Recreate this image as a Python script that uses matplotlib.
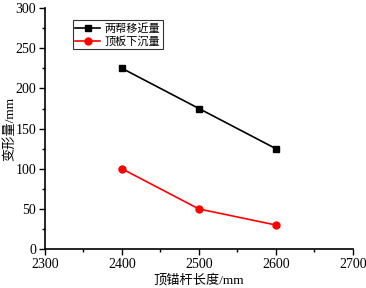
import matplotlib
matplotlib.use('Agg')
import matplotlib.pyplot as plt
from matplotlib.ticker import MultipleLocator

plt.rcParams['font.family'] = ['Liberation Serif', 'Noto Sans CJK SC']

# data
bolt_length = [2400, 2500, 2600]
side_convergence = [225, 175, 125]
roof_subsidence = [100, 50, 30]

fig = plt.figure(figsize=(3.66, 2.88), dpi=100)
ax = fig.add_axes([0.123, 0.135, 0.841, 0.837])

ax.plot(bolt_length, side_convergence, color='black', marker='s', markersize=4.5,
        linewidth=1.2, label='两帮移近量')
ax.plot(bolt_length, roof_subsidence, color='red', marker='o', markersize=5,
        linewidth=1.2, label='顶板下沉量')

ax.set_xlim(2300, 2700)
ax.set_ylim(0, 300)
ax.xaxis.set_major_locator(MultipleLocator(100))
ax.xaxis.set_minor_locator(MultipleLocator(50))
ax.yaxis.set_major_locator(MultipleLocator(50))
ax.yaxis.set_minor_locator(MultipleLocator(25))

ax.spines['top'].set_visible(False)
ax.spines['right'].set_visible(False)
ax.spines['left'].set_linewidth(1.2)
ax.spines['bottom'].set_linewidth(1.2)
ax.tick_params(which='major', direction='out', length=4, width=1, labelsize=10, pad=2.5)
ax.tick_params(which='minor', direction='out', length=2, width=1)

ax.set_xlabel('顶锚杆长度/mm', fontsize=9.5, labelpad=2)
ax.set_ylabel('变形量/mm', fontsize=9.5)
ax.yaxis.set_label_coords(-0.095, 0.5)

leg = ax.legend(loc='upper left', bbox_to_anchor=(0.09, 0.95), fontsize=8,
                frameon=True, fancybox=False, edgecolor='black',
                handlelength=2.2, borderpad=0.25, labelspacing=0.2,
                handletextpad=0.4, borderaxespad=0)
leg.get_frame().set_linewidth(0.8)

fig.savefig('out.png', dpi=100)
